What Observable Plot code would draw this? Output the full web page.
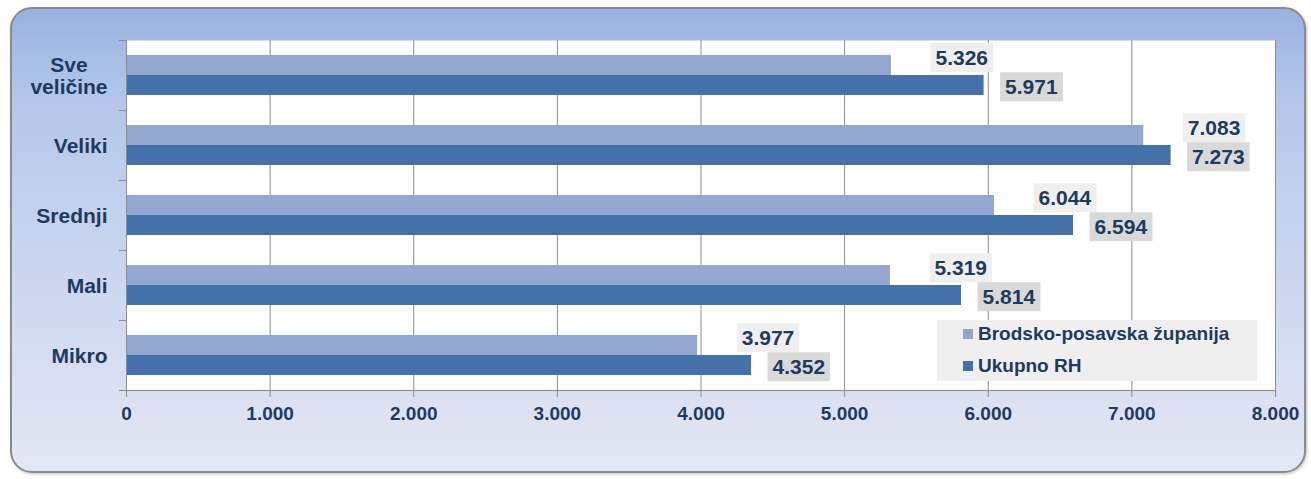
<!DOCTYPE html>
<html>
<head>
<meta charset="utf-8">
<script src="https://cdn.jsdelivr.net/npm/d3@7"></script>
<script src="https://cdn.jsdelivr.net/npm/@observablehq/plot@0.6"></script>
<style>
  body { margin: 0; background: #ffffff; font-family: "Liberation Sans", Arial, sans-serif; }
  #wrap { position: relative; width: 1311px; height: 479px; overflow: hidden; }
  #frame {
    position: absolute; left: 10px; top: 7px; width: 1296px; height: 466px;
    border: 2px solid #8a8a8a; border-radius: 22px; box-sizing: border-box;
    background: linear-gradient(to bottom, #98b3e1 0%, #b4c7ea 20%, #c7d4ee 50%, #d8dff1 80%, #e4e8f3 100%);
    box-shadow: 1px 1px 3px rgba(0,0,0,0.25);
  }
  #chart { position: absolute; left: 0; top: 0; }
  #chart svg text { font-weight: bold; }
  #legend {
    position: absolute; left: 937px; top: 320px; width: 320px; height: 61px;
    background: #efefef; color: #1f3a5f; font-weight: bold; font-size: 19px;
  }
  #legend .item { position: absolute; left: 26px; display: flex; align-items: center; white-space: nowrap; }
  #legend .sw { width: 10px; height: 10px; margin-right: 5px; }
</style>
</head>
<body>
<div id="wrap">
  <div id="frame"></div>
  <div id="chart"></div>
  <div id="legend"></div>
</div>
<script>
const categories = ["Sve\nveličine", "Veliki", "Srednji", "Mali", "Mikro"];
const seriesNames = ["Brodsko-posavska županija", "Ukupno RH"];
const seriesColors = ["#94a8cf", "#4471a9"];
const brodsko = [5326, 7083, 6044, 5319, 3977];
const ukupno = [5971, 7273, 6594, 5814, 4352];
const xTicks = [0, 1000, 2000, 3000, 4000, 5000, 6000, 7000, 8000];
const xTickLabels = ["0", "1.000", "2.000", "3.000", "4.000", "5.000", "6.000", "7.000", "8.000"];

const fmt = v => d3.format(",")(v).replace(/,/g, ".");
const rowsB = brodsko.map((v, i) => ({cat: categories[i], value: v}));
const rowsU = ukupno.map((v, i) => ({cat: categories[i], value: v}));
const textColor = "#1f3a5f";
const lineColor = "#8c8c8c";

const plot = Plot.plot({
  width: 1311,
  height: 479,
  marginLeft: 126,
  marginRight: 36,
  marginTop: 40,
  marginBottom: 89,
  style: {background: "transparent", fontFamily: "Liberation Sans, Arial, sans-serif", color: textColor, overflow: "visible"},
  x: {domain: [0, 8000], label: null},
  y: {domain: categories, padding: 0, label: null, axis: null},
  marks: [
    Plot.frame({fill: "white", stroke: null}),
    Plot.gridX(xTicks.slice(1, -1), {stroke: lineColor, strokeOpacity: 1}),
    Plot.ruleX([xTicks[xTicks.length - 1]], {stroke: lineColor}),
    Plot.barX(rowsB, {x: "value", y: "cat", fill: seriesColors[0], insetTop: 15, insetBottom: 35}),
    Plot.barX(rowsU, {x: "value", y: "cat", fill: seriesColors[1], insetTop: 35, insetBottom: 15}),
    Plot.ruleX([0], {stroke: lineColor}),
    Plot.ruleY([categories[categories.length - 1]], {dy: 35, stroke: lineColor}),
    Plot.ruleY(categories, {dy: -35, x1: 0, x2: 0, insetLeft: -7, stroke: lineColor}),
    Plot.ruleY([categories[categories.length - 1]], {dy: 35, x1: 0, x2: 0, insetLeft: -7, stroke: lineColor}),
    Plot.axisX({ticks: xTicks, tickFormat: d => xTickLabels[xTicks.indexOf(d)], tickSize: 7, tickPadding: 9, fontSize: 19, stroke: lineColor, fill: textColor}),
    Plot.text(categories, {y: d => d, frameAnchor: "left", dx: -19, textAnchor: "end", fontSize: 21, lineHeight: 1.05, fill: textColor}),
    Plot.text(rowsB, {x: "value", y: "cat", text: d => fmt(d.value), dx: 44, dy: -17, textAnchor: "start", fontSize: 21, fill: textColor}),
    Plot.text(rowsU, {x: "value", y: "cat", text: d => fmt(d.value), dx: 21, dy: 12, textAnchor: "start", fontSize: 21, fill: textColor})
  ]
});
document.getElementById("chart").appendChild(plot);

const textGroups = Array.from(plot.querySelectorAll('g[aria-label="text"]'));
const [catGroup, lightGroup, darkGroup] = textGroups.slice(-3);

function boxes(g, color) {
  if (!g) return;
  g.querySelectorAll("text").forEach(t => {
    const b = t.getBBox();
    const r = document.createElementNS("http://www.w3.org/2000/svg", "rect");
    r.setAttribute("x", b.x - 5);
    r.setAttribute("y", b.y - 3);
    r.setAttribute("width", b.width + 10);
    r.setAttribute("height", b.height + 6);
    r.setAttribute("fill", color);
    const tr = t.getAttribute("transform");
    if (tr) r.setAttribute("transform", tr);
    t.parentNode.insertBefore(r, t);
  });
}
boxes(lightGroup, "#efefef");
boxes(darkGroup, "#d9d9d9");

// center the lines of a multi-line category label (as in the original)
if (catGroup) {
  catGroup.querySelectorAll("text").forEach(t => {
    const spans = t.querySelectorAll("tspan");
    if (spans.length > 1) {
      const b = t.getBBox();
      const cx = b.x + b.width / 2;
      t.setAttribute("text-anchor", "middle");
      spans.forEach(s => s.setAttribute("x", cx));
    }
  });
}

const legend = document.getElementById("legend");
const tops = [3, 35];
seriesNames.forEach((name, i) => {
  const it = document.createElement("div");
  it.className = "item";
  it.style.top = tops[i] + "px";
  const sw = document.createElement("span");
  sw.className = "sw";
  sw.style.background = seriesColors[i];
  const tx = document.createElement("span");
  tx.textContent = name;
  it.appendChild(sw);
  it.appendChild(tx);
  legend.appendChild(it);
});
</script>
</body>
</html>
